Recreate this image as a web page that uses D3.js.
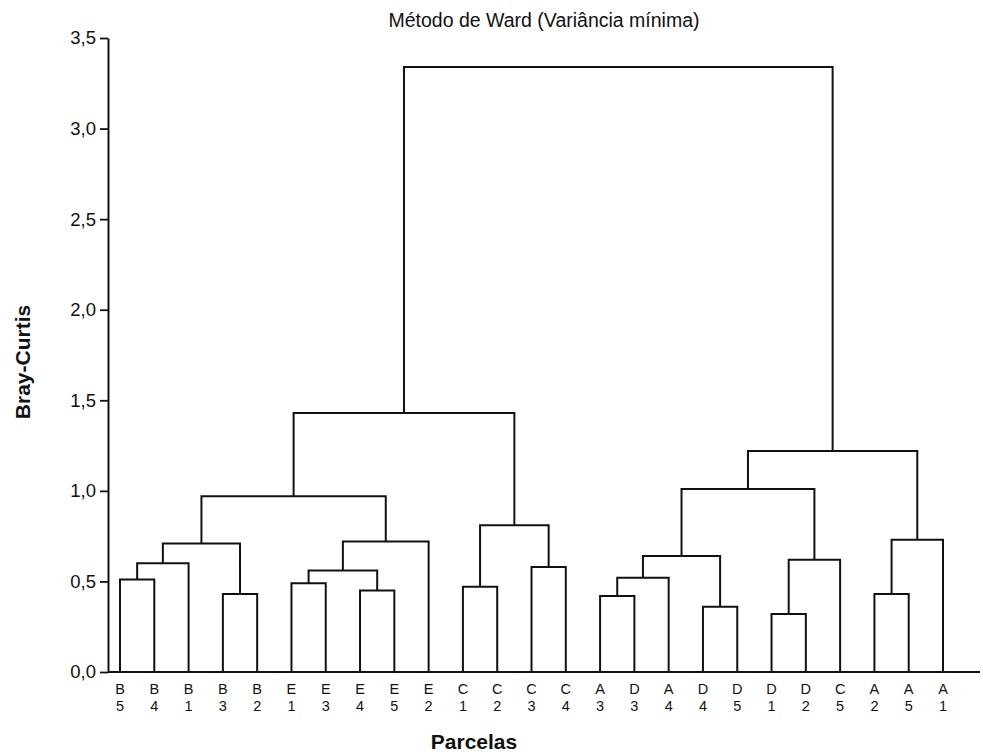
<!DOCTYPE html>
<html>
<head>
<meta charset="utf-8">
<script src="https://cdn.jsdelivr.net/npm/d3@7"></script>
<style>
  html, body { margin: 0; padding: 0; background: #ffffff; }
  svg { display: block; font-family: "Liberation Sans", Arial, sans-serif; }
</style>
</head>
<body>
<svg id="chart" width="983" height="754"></svg>
<script>
// Leaves in dendrogram order (letter + plot number)
const leafLetters = ["B","B","B","B","B","E","E","E","E","E","C","C","C","C","A","D","A","D","D","D","D","C","A","A","A"];
const leafNumbers = ["5","4","1","3","2","1","3","4","5","2","1","2","3","4","3","3","4","4","5","1","2","5","2","5","1"];

// Linkage: cluster 25+i joins mergeA[i] and mergeB[i] at mergeHeight[i]
const mergeA = [19, 17, 14, 3, 22, 7, 10, 5, 0, 27, 32, 12, 33, 25, 34, 37, 35, 29, 31, 40, 39, 45, 44, 47];
const mergeB = [20, 18, 15, 4, 23, 8, 11, 6, 1, 16, 30, 13, 2, 21, 26, 28, 9, 24, 36, 41, 38, 42, 43, 46];
const mergeHeight = [0.32, 0.36, 0.42, 0.43, 0.43, 0.45, 0.47, 0.49, 0.51, 0.52, 0.56, 0.58, 0.60, 0.62, 0.64, 0.71, 0.72, 0.73, 0.81, 0.97, 1.01, 1.22, 1.43, 3.34];

const yTicks = [0, 0.5, 1.0, 1.5, 2.0, 2.5, 3.0, 3.5];
const titleText = "Método de Ward (Variância mínima)";
const yTitle = "Bray-Curtis";
const xTitle = "Parcelas";

const svg = d3.select("#chart");
const ink = "#111111";

const axisX = 108;
const x = d3.scalePoint().domain(d3.range(leafLetters.length)).range([120, 943]);
const y = d3.scaleLinear().domain([0, 3.5]).range([672, 38]);

// node positions
const nodeX = [], nodeH = [];
leafLetters.forEach((d, i) => { nodeX[i] = x(i); nodeH[i] = 0; });
const n = leafLetters.length;
const links = mergeA.map((a, i) => {
  const b = mergeB[i], h = mergeHeight[i];
  nodeX[n + i] = (nodeX[a] + nodeX[b]) / 2;
  nodeH[n + i] = h;
  return { a, b, h };
});

// links
svg.append("g")
  .selectAll("path")
  .data(links)
  .join("path")
  .attr("d", d => {
    const p = d3.path();
    p.moveTo(nodeX[d.a], y(nodeH[d.a]));
    p.lineTo(nodeX[d.a], y(d.h));
    p.lineTo(nodeX[d.b], y(d.h));
    p.lineTo(nodeX[d.b], y(nodeH[d.b]));
    return p.toString();
  })
  .attr("fill", "none")
  .attr("stroke", ink)
  .attr("stroke-width", 2);

// y axis
const yAxis = d3.axisLeft(y)
  .tickValues(yTicks)
  .tickSize(8)
  .tickSizeOuter(0)
  .tickPadding(4)
  .tickFormat(d => d3.format(".1f")(d).replace(".", ","));
const gy = svg.append("g").attr("transform", `translate(${axisX},0)`).call(yAxis);
gy.select(".domain").attr("stroke", ink).attr("stroke-width", 2);
gy.selectAll(".tick line").attr("stroke", ink).attr("stroke-width", 1.8);
gy.selectAll(".tick text")
  .attr("fill", ink)
  .style("font-size", "18.5px")
  .style("font-family", "'Liberation Sans', Arial, sans-serif");

// x axis baseline
svg.append("line")
  .attr("x1", axisX).attr("x2", 980)
  .attr("y1", y(0)).attr("y2", y(0))
  .attr("stroke", ink).attr("stroke-width", 2);

// leaf labels
const lab = svg.append("g").attr("fill", ink).style("font-size", "14.5px").attr("text-anchor", "middle");
lab.selectAll("text.l")
  .data(leafLetters)
  .join("text")
  .attr("class", "l")
  .attr("x", (d, i) => x(i))
  .attr("y", 694)
  .text(d => d);
lab.selectAll("text.n")
  .data(leafNumbers)
  .join("text")
  .attr("class", "n")
  .attr("x", (d, i) => x(i))
  .attr("y", 711)
  .text(d => d);

// title
svg.append("text")
  .attr("x", 544).attr("y", 27)
  .attr("text-anchor", "middle")
  .attr("fill", ink)
  .style("font-size", "19.5px")
  .text(titleText);

// axis titles
svg.append("text")
  .attr("transform", `translate(30,362) rotate(-90)`)
  .attr("text-anchor", "middle")
  .attr("fill", ink)
  .style("font-size", "21px")
  .style("font-weight", "bold")
  .text(yTitle);

svg.append("text")
  .attr("x", 474).attr("y", 749)
  .attr("text-anchor", "middle")
  .attr("fill", ink)
  .style("font-size", "21px")
  .style("font-weight", "bold")
  .text(xTitle);
</script>
</body>
</html>
